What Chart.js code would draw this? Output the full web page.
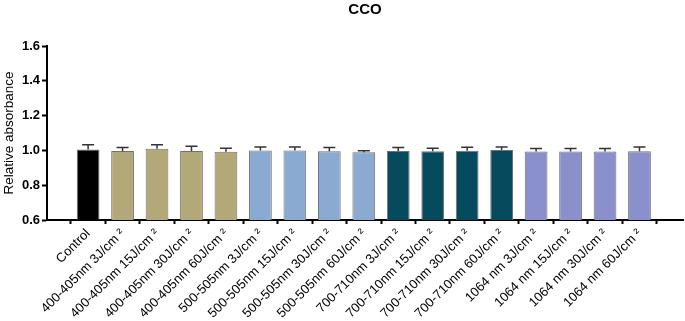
<!DOCTYPE html>
<html>
<head>
<meta charset="utf-8">
<script src="https://cdn.jsdelivr.net/npm/chart.js@4/dist/chart.umd.min.js"></script>
<style>
  html, body { margin: 0; padding: 0; background: #fff; }
  #wrap { width: 685px; height: 321px; position: relative; }
</style>
</head>
<body>
<div id="wrap"><canvas id="cco"></canvas></div>
<script>
// chart data
const groups = [
  'Control',
  '400-405nm 3J/cm ²', '400-405nm 15J/cm ²', '400-405nm 30J/cm ²', '400-405nm 60J/cm ²',
  '500-505nm 3J/cm ²', '500-505nm 15J/cm ²', '500-505nm 30J/cm ²', '500-505nm 60J/cm ²',
  '700-710nm 3J/cm ²', '700-710nm 15J/cm ²', '700-710nm 30J/cm ²', '700-710nm 60J/cm ²',
  '1064 nm 3J/cm ²', '1064 nm 15J/cm ²', '1064 nm 30J/cm ²', '1064 nm 60J/cm ²'
];
const means = [1.005, 0.997, 1.01, 0.997, 0.992, 1.0, 1.0, 0.995, 0.99, 0.997, 0.995, 0.998, 1.002, 0.993, 0.993, 0.993, 0.995];
const sem = [0.028, 0.02, 0.022, 0.027, 0.02, 0.02, 0.02, 0.022, 0.008, 0.02, 0.017, 0.02, 0.018, 0.018, 0.018, 0.018, 0.024];
const yTicks = [0.6, 0.8, 1.0, 1.2, 1.4, 1.6];

const barColors = ['#000000',
  '#b3a877', '#b3a877', '#b3a877', '#b3a877',
  '#8aaad1', '#8aaad1', '#8aaad1', '#8aaad1',
  '#064b5d', '#064b5d', '#064b5d', '#064b5d',
  '#8a90cc', '#8a90cc', '#8a90cc', '#8a90cc'];

// error bars (upper only) + title
const extras = {
  id: 'extras',
  afterDatasetsDraw(chart) {
    const ctx = chart.ctx;
    const x = chart.scales.x, y = chart.scales.y;
    ctx.save();
    ctx.strokeStyle = '#333';
    ctx.lineWidth = 1.5;
    means.forEach((m, i) => {
      const px = x.getPixelForValue(i);
      const top = y.getPixelForValue(m);
      const cap = y.getPixelForValue(m + sem[i]);
      ctx.beginPath();
      ctx.moveTo(px, top);
      ctx.lineTo(px, cap);
      ctx.moveTo(px - 6, cap);
      ctx.lineTo(px + 6, cap);
      ctx.stroke();
    });
    ctx.fillStyle = '#000';
    ctx.font = 'bold 15px "Liberation Sans", Arial, sans-serif';
    ctx.textAlign = 'center';
    ctx.textBaseline = 'middle';
    ctx.fillText('CCO', (chart.chartArea.left + chart.chartArea.right) / 2, 10);
    ctx.restore();
  }
};

new Chart(document.getElementById('cco'), {
  type: 'bar',
  data: {
    datasets: [{
      data: means.map((m, i) => ({ x: i, y: m })),
      backgroundColor: barColors,
      borderColor: '#707070',
      borderWidth: 1,
      barPercentage: 0.66,
      categoryPercentage: 1
    }]
  },
  options: {
    responsive: true,
    maintainAspectRatio: false,
    animation: false,
    layout: { padding: { top: 46, right: 2, left: 0, bottom: 0 } },
    plugins: { legend: { display: false }, tooltip: { enabled: false } },
    scales: {
      x: {
        type: 'linear',
        min: -0.65,
        max: 16.72,
        afterBuildTicks: s => { s.ticks = groups.map((_, i) => ({ value: i })); },
        afterFit: s => { s.height = 101; },
        border: { color: '#000', width: 2 },
        grid: { drawOnChartArea: false, drawTicks: true, tickLength: 4, color: '#000', tickWidth: 2 },
        ticks: {
          autoSkip: false,
          minRotation: 45,
          maxRotation: 45,
          padding: 2,
          color: '#000',
          font: { family: '"Liberation Sans", Arial, sans-serif', size: 13 },
          callback: v => groups[v]
        }
      },
      y: {
        min: 0.6,
        max: 1.6,
        afterBuildTicks: s => { s.ticks = yTicks.map(v => ({ value: v })); },
        afterFit: s => { s.width = 47; },
        border: { color: '#000', width: 2 },
        grid: { drawOnChartArea: false, drawTicks: true, tickLength: 5, color: '#000', tickWidth: 2 },
        ticks: {
          padding: 2,
          color: '#000',
          font: { family: '"Liberation Sans", Arial, sans-serif', size: 13, weight: 'bold' },
          callback: v => v.toFixed(1)
        },
        title: {
          display: true,
          text: 'Relative absorbance',
          color: '#000',
          padding: { top: 1, bottom: 0 },
          font: { family: '"Liberation Sans", Arial, sans-serif', size: 13.5 }
        }
      }
    }
  },
  plugins: [extras]
});
</script>
</body>
</html>
